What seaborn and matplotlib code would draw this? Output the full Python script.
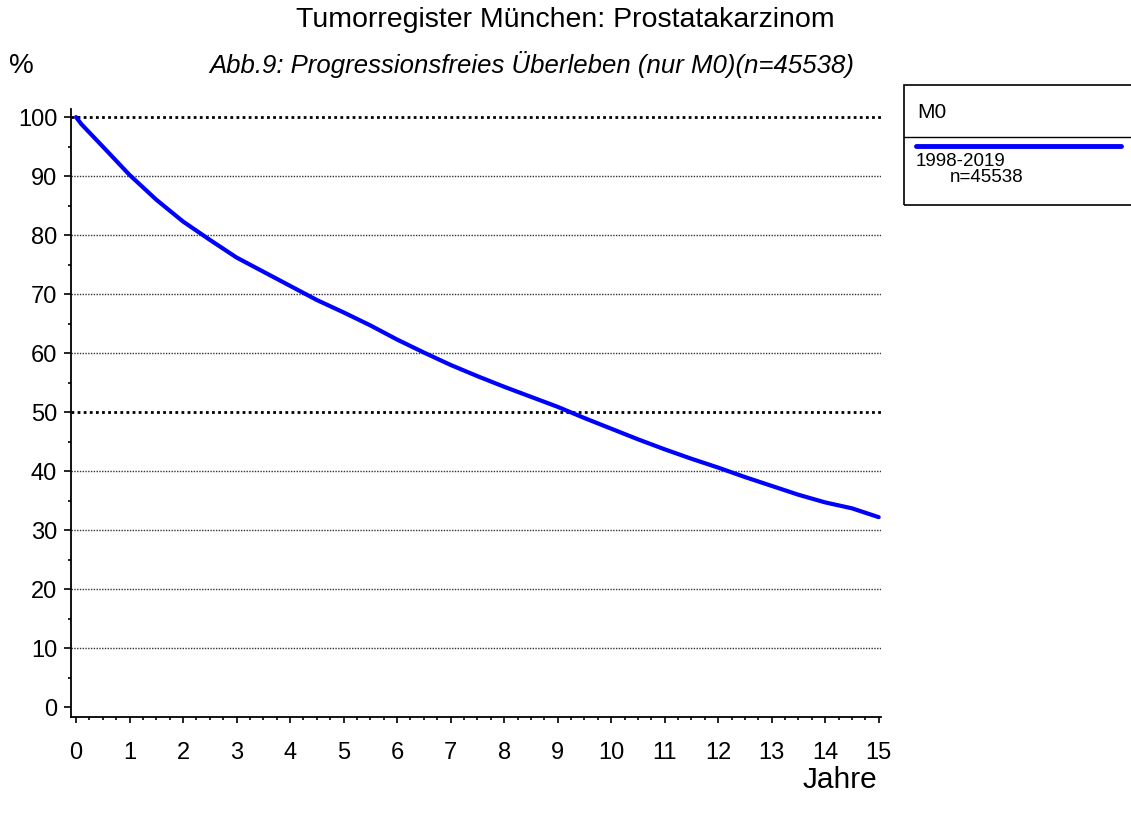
import matplotlib
matplotlib.use("Agg")
import matplotlib.pyplot as plt
from matplotlib import ticker
from matplotlib.patches import Rectangle
from matplotlib.lines import Line2D
import seaborn as sns
import pandas as pd

years = [0, 0.1, 0.5, 1, 1.5, 2, 2.5, 3, 3.5, 4, 4.5, 5, 5.5, 6, 6.5, 7, 7.5,
         8, 8.5, 9, 9.5, 10, 10.5, 11, 11.5, 12, 12.5, 13, 13.5, 14, 14.5, 15]
survival = [100, 98.8, 95.0, 90.2, 86.0, 82.3, 79.2, 76.2, 73.8, 71.4, 69.0,
            66.9, 64.7, 62.3, 60.1, 58.0, 56.1, 54.3, 52.6, 50.9, 49.0, 47.2,
            45.4, 43.7, 42.1, 40.6, 39.0, 37.5, 36.0, 34.7, 33.7, 32.2]
group = "M0"
period = "1998-2019"
n_label = "n=45538"

df = pd.DataFrame({'Jahre': years, 'pfs': survival})

sns.set_style('white')
plt.rcParams['font.family'] = ['Liberation Sans', 'DejaVu Sans']
plt.rcParams['text.color'] = 'black'
plt.rcParams['xtick.color'] = 'black'
plt.rcParams['ytick.color'] = 'black'

fig = plt.figure(figsize=(11.31, 8.14), dpi=100)
ax = fig.add_axes([0.0628, 0.119, 0.716, 0.747])

sns.lineplot(data=df, x='Jahre', y='pfs', color='#0000ff', linewidth=3,
             ax=ax, legend=False)

ax.set_xlim(-0.094, 15.04)
ax.set_ylim(-1.69, 101.36)
ax.xaxis.set_major_locator(ticker.MultipleLocator(1))
ax.xaxis.set_minor_locator(ticker.MultipleLocator(0.25))
ax.yaxis.set_major_locator(ticker.MultipleLocator(10))
ax.yaxis.set_minor_locator(ticker.MultipleLocator(5))
ax.tick_params(axis='both', which='both', bottom=True, left=True,
               direction='out', width=1.2, colors='black')
ax.tick_params(axis='y', which='major', length=5, labelsize=17, pad=5)
ax.tick_params(axis='y', which='minor', length=2.2)
ax.tick_params(axis='x', which='major', length=4.3, labelsize=17, pad=13.5)
ax.tick_params(axis='x', which='minor', length=2.2)

for v in range(10, 100, 10):
    if v != 50:
        ax.axhline(v, color='#333333', linestyle=(0, (1, 1)), linewidth=1,
                   zorder=0)
for v in (50, 100):
    ax.axhline(v, color='black', linestyle=(0, (1, 1.2)), linewidth=2, zorder=0)

sns.despine(ax=ax)
for s in ('left', 'bottom'):
    ax.spines[s].set_linewidth(1.3)
    ax.spines[s].set_color('black')
ax.set_xlabel('')
ax.set_ylabel('')

fig.text(565 / 1131, 1 - 20 / 814, 'Tumorregister München: Prostatakarzinom',
         ha='center', va='center', fontsize=20.5)
fig.text(532 / 1131, 1 - 65 / 814,
         'Abb.9: Progressionsfreies Überleben (nur M0)(n=45538)',
         ha='center', va='center', fontsize=18.5, style='italic')
fig.text(21 / 1131, 1 - 66 / 814, '%', ha='center', va='center', fontsize=20)
fig.text(877 / 1131, 1 - 780 / 814, 'Jahre', ha='right', va='center',
         fontsize=21.5)

# legend box
box = Rectangle((904 / 1131, 1 - 205 / 814), 0.21, 120 / 814,
                transform=fig.transFigure, fill=False, edgecolor='black',
                linewidth=1.2)
fig.add_artist(box)
fig.add_artist(Line2D([904 / 1131, 1.0], [1 - 137 / 814] * 2,
                      transform=fig.transFigure, color='black', linewidth=1))
fig.add_artist(Line2D([916 / 1131, 1121 / 1131], [1 - 146 / 814] * 2,
                      transform=fig.transFigure, color='#0000ff', linewidth=3.5))
fig.text(917 / 1131, 1 - 113 / 814, group, ha='left', va='center', fontsize=15)
fig.text(916 / 1131, 1 - 162 / 814, period, ha='left', va='center',
         fontsize=13.5)
fig.text(950 / 1131, 1 - 177 / 814, n_label, ha='left', va='center',
         fontsize=13.5)

fig.savefig('out.png', dpi=100)
